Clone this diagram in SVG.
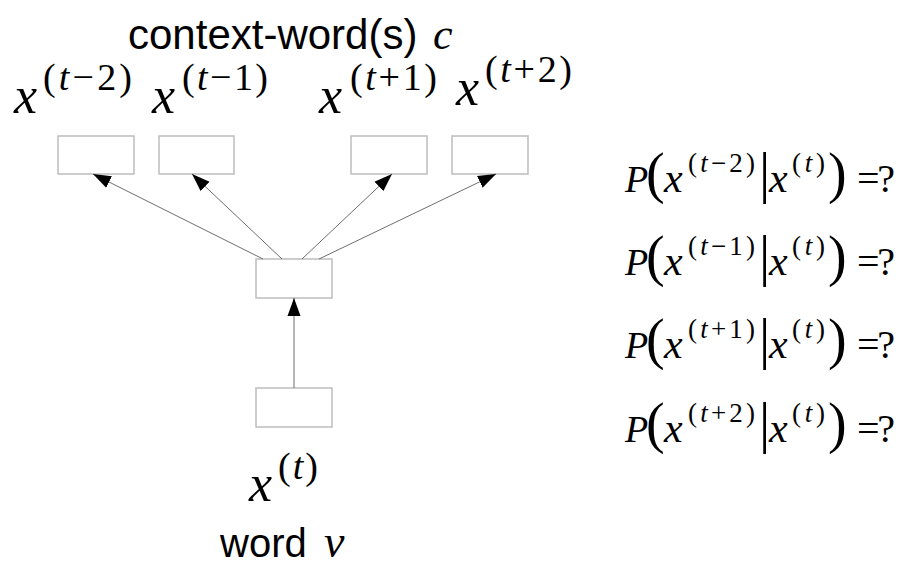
<svg xmlns="http://www.w3.org/2000/svg" width="906" height="567" viewBox="0 0 906 567">
<defs>
<marker id="ah" markerUnits="userSpaceOnUse" markerWidth="18" markerHeight="14" refX="18" refY="7" orient="auto">
<path d="M0,0.5 L18,7 L0,13.5 z" fill="#000"/>
</marker>
<style>
.box{fill:#fff;stroke:#bdbdbd;stroke-width:1.5}
.edge{stroke:#6e6e6e;stroke-width:1;fill:none;marker-end:url(#ah)}
.sans{font-family:"Liberation Sans",Arial,sans-serif;fill:#000}
.m{font-family:"Liberation Serif","Times New Roman",serif;fill:#000}
.i{font-style:italic}
</style>
</defs>
<rect width="906" height="567" fill="#fff"/>

<g id="title">
<text class="sans" x="128" y="49" font-size="42">context-word(s)</text>
<text class="m i" x="433" y="49" font-size="44">c</text>
</g>

<g id="label-tm2">
<text class="m i" x="14" y="113" font-size="52">x</text>
<text class="m" x="43" y="90" font-size="38" textLength="89" lengthAdjust="spacing">(<tspan class="i">t</tspan>−2)</text>
</g>
<g id="label-tm1">
<text class="m i" x="152" y="113" font-size="52">x</text>
<text class="m" x="182" y="90" font-size="38" textLength="86" lengthAdjust="spacing">(<tspan class="i">t</tspan>−1)</text>
</g>
<g id="label-tp1">
<text class="m i" x="319" y="113" font-size="52">x</text>
<text class="m" x="350" y="90" font-size="38" textLength="87" lengthAdjust="spacing">(<tspan class="i">t</tspan>+1)</text>
</g>
<g id="label-tp2">
<text class="m i" x="456" y="105" font-size="52">x</text>
<text class="m" x="485" y="82" font-size="38" textLength="87" lengthAdjust="spacing">(<tspan class="i">t</tspan>+2)</text>
</g>

<g id="node-tm2"><rect class="box" x="58" y="136" width="76" height="38"/></g>
<g id="node-tm1"><rect class="box" x="159" y="136" width="75" height="38"/></g>
<g id="node-tp1"><rect class="box" x="351" y="136" width="76" height="38"/></g>
<g id="node-tp2"><rect class="box" x="452" y="136" width="76" height="38"/></g>
<g id="node-hidden"><rect class="box" x="256" y="259" width="76" height="39"/></g>
<g id="node-input"><rect class="box" x="256" y="388" width="76" height="39"/></g>

<g id="connectors">
<line class="edge" x1="263" y1="259" x2="93" y2="174"/>
<line class="edge" x1="282" y1="259" x2="192" y2="174"/>
<line class="edge" x1="302" y1="259" x2="392" y2="174"/>
<line class="edge" x1="319" y1="259" x2="496" y2="174"/>
<line class="edge" x1="294" y1="388" x2="294" y2="298"/>
</g>

<g id="label-t">
<text class="m i" x="249" y="501" font-size="52">x</text>
<text class="m" x="278" y="479" font-size="38" textLength="40" lengthAdjust="spacing">(<tspan class="i">t</tspan>)</text>
</g>

<g id="word">
<text class="sans" x="220" y="557" font-size="40">word</text>
<text class="m i" x="324" y="557" font-size="46">v</text>
</g>

<g id="probs">
<g id="p1" transform="translate(0,192)">
<text class="m i" x="625" y="0" font-size="38">P</text>
<text class="m" x="646" y="0" font-size="56">(</text>
<text class="m i" x="664" y="0" font-size="42">x</text>
<text class="m" x="688" y="-20" font-size="27" textLength="67" lengthAdjust="spacing">(<tspan class="i">t</tspan>−2)</text>
<text class="m" x="759" y="0" font-size="56">|</text>
<text class="m i" x="769" y="0" font-size="42">x</text>
<text class="m" x="792" y="-20" font-size="27" textLength="33" lengthAdjust="spacing">(<tspan class="i">t</tspan>)</text>
<text class="m" x="828" y="0" font-size="56">)</text>
<text class="m" x="857" y="0" font-size="40" textLength="38" lengthAdjust="spacing">=?</text>
</g>
<g id="p2" transform="translate(0,275)">
<text class="m i" x="625" y="0" font-size="38">P</text>
<text class="m" x="646" y="0" font-size="56">(</text>
<text class="m i" x="664" y="0" font-size="42">x</text>
<text class="m" x="688" y="-20" font-size="27" textLength="67" lengthAdjust="spacing">(<tspan class="i">t</tspan>−1)</text>
<text class="m" x="759" y="0" font-size="56">|</text>
<text class="m i" x="769" y="0" font-size="42">x</text>
<text class="m" x="792" y="-20" font-size="27" textLength="33" lengthAdjust="spacing">(<tspan class="i">t</tspan>)</text>
<text class="m" x="828" y="0" font-size="56">)</text>
<text class="m" x="857" y="0" font-size="40" textLength="38" lengthAdjust="spacing">=?</text>
</g>
<g id="p3" transform="translate(0,358)">
<text class="m i" x="625" y="0" font-size="38">P</text>
<text class="m" x="646" y="0" font-size="56">(</text>
<text class="m i" x="664" y="0" font-size="42">x</text>
<text class="m" x="688" y="-20" font-size="27" textLength="67" lengthAdjust="spacing">(<tspan class="i">t</tspan>+1)</text>
<text class="m" x="759" y="0" font-size="56">|</text>
<text class="m i" x="769" y="0" font-size="42">x</text>
<text class="m" x="792" y="-20" font-size="27" textLength="33" lengthAdjust="spacing">(<tspan class="i">t</tspan>)</text>
<text class="m" x="828" y="0" font-size="56">)</text>
<text class="m" x="857" y="0" font-size="40" textLength="38" lengthAdjust="spacing">=?</text>
</g>
<g id="p4" transform="translate(0,442)">
<text class="m i" x="625" y="0" font-size="38">P</text>
<text class="m" x="646" y="0" font-size="56">(</text>
<text class="m i" x="664" y="0" font-size="42">x</text>
<text class="m" x="688" y="-20" font-size="27" textLength="67" lengthAdjust="spacing">(<tspan class="i">t</tspan>+2)</text>
<text class="m" x="759" y="0" font-size="56">|</text>
<text class="m i" x="769" y="0" font-size="42">x</text>
<text class="m" x="792" y="-20" font-size="27" textLength="33" lengthAdjust="spacing">(<tspan class="i">t</tspan>)</text>
<text class="m" x="828" y="0" font-size="56">)</text>
<text class="m" x="857" y="0" font-size="40" textLength="38" lengthAdjust="spacing">=?</text>
</g>
</g>
</svg>
